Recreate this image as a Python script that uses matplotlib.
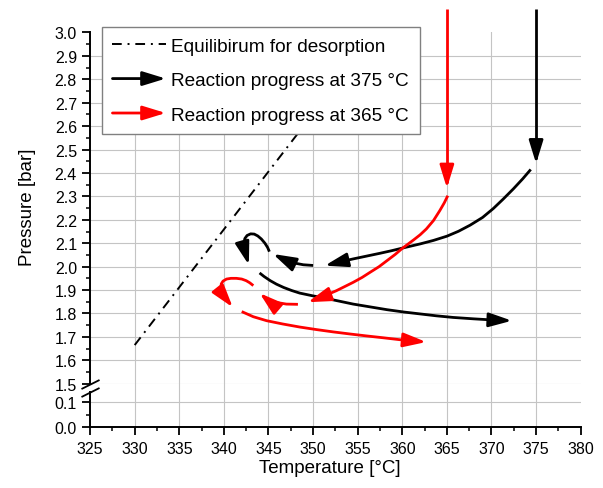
import numpy as np
import matplotlib
matplotlib.use("Agg")
import matplotlib.pyplot as plt
from matplotlib.patches import FancyArrowPatch
from matplotlib.path import Path
from matplotlib.legend_handler import HandlerPatch

plt.rcParams['font.family'] = ['Liberation Sans', 'DejaVu Sans']

# ---- data ----
temp_ticks = [325, 330, 335, 340, 345, 350, 355, 360, 365, 370, 375, 380]
p_hi_ticks = [1.5, 1.6, 1.7, 1.8, 1.9, 2.0, 2.1, 2.2, 2.3, 2.4, 2.5, 2.6, 2.7, 2.8, 2.9, 3.0]
p_lo_ticks = [0.0, 0.1]

# equilibrium line for desorption (partly hidden behind the legend)
eq_T = [330.0, 355.0]
eq_p = [1.665, 2.90]

# reaction progress at 375 degC, one list per arrow segment
r375_T = [
    [375.0, 375.0],
    [374.4, 373.5, 372.45, 371.3, 370.2, 369.0, 367.6, 366.3, 365.0, 363.5,
     362.0, 360.1, 358.8, 357.5, 356.0, 354.5, 353.0, 351.3],
    [350.0, 348.9, 347.8, 346.8, 345.5],
    [345.1, 344.9, 344.6, 344.2, 343.8, 343.4, 343.0, 342.6, 342.35, 342.25,
     342.35, 342.55, 342.8],
    [344.0, 344.5, 345.2, 345.9, 346.7, 347.6, 348.5, 350.0, 351.5, 353.0,
     354.5, 356.4, 358.3, 360.2, 362.0, 363.8, 365.7, 368.0, 370.2, 372.3],
]
r375_p = [
    [3.10, 2.44],
    [2.415, 2.375, 2.332, 2.288, 2.248, 2.210, 2.177, 2.151, 2.130, 2.112,
     2.097, 2.080, 2.068, 2.057, 2.045, 2.033, 2.020, 2.004],
    [2.005, 2.008, 2.016, 2.03, 2.054],
    [2.064, 2.082, 2.10, 2.118, 2.131, 2.139, 2.140, 2.133, 2.12, 2.10,
     2.07, 2.04, 2.007],
    [1.973, 1.958, 1.940, 1.925, 1.911, 1.898, 1.887, 1.875, 1.864, 1.852,
     1.840, 1.828, 1.816, 1.806, 1.798, 1.790, 1.783, 1.777, 1.772, 1.769],
]

# reaction progress at 365 degC
r365_T = [
    [365.0, 365.0],
    [365.1, 364.7, 364.2, 363.5, 362.7, 362.0, 361.3, 360.6, 360.0, 359.2,
     358.3, 357.4, 356.4, 355.5, 354.5, 353.5, 352.6, 351.5, 350.5, 349.4],
    [348.3, 347.0, 345.9, 344.8, 344.0],
    [343.3, 342.9, 342.5, 342.0, 341.4, 340.8, 340.3, 339.9, 339.7, 339.7,
     340.0, 340.5, 341.0],
    [342.0, 343.3, 344.8, 346.6, 348.5, 350.4, 352.3, 354.2, 356.0, 357.9,
     359.7, 361.2, 362.7],
]
r365_p = [
    [3.10, 2.335],
    [2.303, 2.272, 2.239, 2.197, 2.161, 2.136, 2.115, 2.095, 2.078, 2.052,
     2.026, 2.000, 1.976, 1.954, 1.933, 1.914, 1.897, 1.879, 1.863, 1.848],
    [1.839, 1.840, 1.847, 1.861, 1.887],
    [1.919, 1.931, 1.940, 1.947, 1.950, 1.950, 1.947, 1.938, 1.926, 1.905,
     1.875, 1.85, 1.826],
    [1.808, 1.786, 1.769, 1.755, 1.742, 1.731, 1.721, 1.712, 1.704, 1.696,
     1.688, 1.683, 1.678],
]

labels = ['Equilibirum for desorption',
          'Reaction progress at 375 °C',
          'Reaction progress at 365 °C']

arrow_style = '-|>,head_length=14,head_width=4.3'
grid_col = '#c4c4c4'


class HandlerArrow(HandlerPatch):
    def create_artists(self, legend, orig_handle, xdescent, ydescent,
                       width, height, fontsize, trans):
        yc = 0.5 * height - ydescent
        a = FancyArrowPatch((-xdescent, yc), (width - xdescent, yc),
                            arrowstyle=arrow_style, mutation_scale=1,
                            color=orig_handle.get_edgecolor(),
                            lw=orig_handle.get_linewidth(),
                            shrinkA=0, shrinkB=0)
        a.set_transform(trans)
        return [a]


fig = plt.figure(figsize=(6.03, 4.89), dpi=100)
ax_hi = fig.add_axes([0.1494, 0.2133, 0.8136, 0.7182])
ax_lo = fig.add_axes([0.1494, 0.1241, 0.8136, 0.0892])

ax_hi.set_xlim(325, 380)
ax_lo.set_xlim(325, 380)
ax_hi.set_ylim(1.5, 3.0)
ax_lo.set_ylim(0, 0.1744)

# grid (no lines on the outer edges)
for xv in temp_ticks[1:-1]:
    ax_hi.axvline(xv, color=grid_col, lw=0.8, zorder=0)
    ax_lo.axvline(xv, color=grid_col, lw=0.8, zorder=0)
for yv in p_hi_ticks[:-1]:
    ax_hi.axhline(yv, color=grid_col, lw=0.8, zorder=0)
ax_lo.axhline(p_lo_ticks[1], color=grid_col, lw=0.8, zorder=0)

# spines and ticks
for s in ['top', 'right', 'bottom']:
    ax_hi.spines[s].set_visible(False)
for s in ['top', 'right']:
    ax_lo.spines[s].set_visible(False)
ax_lo.spines['left'].set_bounds(0, 0.14)
for ax in (ax_hi, ax_lo):
    ax.set_facecolor('none')
    for s in ['left', 'bottom']:
        ax.spines[s].set_linewidth(1.4)
    ax.tick_params(which='major', direction='out', length=6, width=1.3,
                   labelsize=11.5)
    ax.tick_params(which='minor', direction='out', length=3, width=1.1)

ax_hi.tick_params(axis='x', which='both', bottom=False, labelbottom=False)
ax_hi.set_yticks(p_hi_ticks)
ax_hi.set_yticks(np.arange(1.55, 3.0, 0.1), minor=True)
ax_hi.set_yticklabels([f'{v:.1f}' for v in p_hi_ticks])
ax_lo.set_yticks(p_lo_ticks)
ax_lo.set_yticks([0.05], minor=True)
ax_lo.set_yticklabels([f'{v:.1f}' for v in p_lo_ticks])
ax_lo.set_xticks(temp_ticks)
ax_lo.set_xticks(np.arange(327.5, 380, 5), minor=True)
ax_lo.set_xticklabels([str(t) for t in temp_ticks])

# break marks on the left spine
bk = dict(marker=[(-1, -0.5), (1, 0.5)], markersize=13, linestyle='none',
          color='k', mec='k', mew=1.3, clip_on=False)
ax_hi.plot([325], [1.5], **bk)
ax_lo.plot([325], [0.14], **bk)

# equilibrium line
eq_line, = ax_hi.plot(eq_T, eq_p, color='k', lw=1.4,
                      ls=(0, (5, 3, 1, 3)), zorder=2)

# reaction paths as arrows
handles = [eq_line]
for segs_T, segs_p, col in ((r375_T, r375_p, 'black'), (r365_T, r365_p, 'red')):
    first = None
    for tx, py in zip(segs_T, segs_p):
        arr = FancyArrowPatch(path=Path(np.column_stack([tx, py])),
                              arrowstyle=arrow_style, mutation_scale=1,
                              color=col, lw=2.0, clip_on=False, zorder=3,
                              joinstyle='round', capstyle='butt')
        ax_hi.add_patch(arr)
        if first is None:
            first = arr
    handles.append(first)

leg = ax_hi.legend(handles, labels, loc='upper left',
                   bbox_to_anchor=(102 / 603, 1 - 28 / 489),
                   bbox_transform=fig.transFigure, borderaxespad=0,
                   fontsize=13.7, frameon=True, fancybox=False,
                   edgecolor='#808080', framealpha=1, handlelength=2.8,
                   handletextpad=0.3, labelspacing=0.9, borderpad=0.55,
                   handler_map={FancyArrowPatch: HandlerArrow()})
leg.get_frame().set_linewidth(1.0)
leg.set_zorder(10)

fig.text(27 / 603, 1 - 207 / 489, 'Pressure [bar]', rotation=90,
         ha='center', va='center', fontsize=13.5)
fig.text(330 / 603, 1 - 469 / 489, 'Temperature [°C]',
         ha='center', va='center', fontsize=13.5)

fig.savefig('out.png', dpi=100)
